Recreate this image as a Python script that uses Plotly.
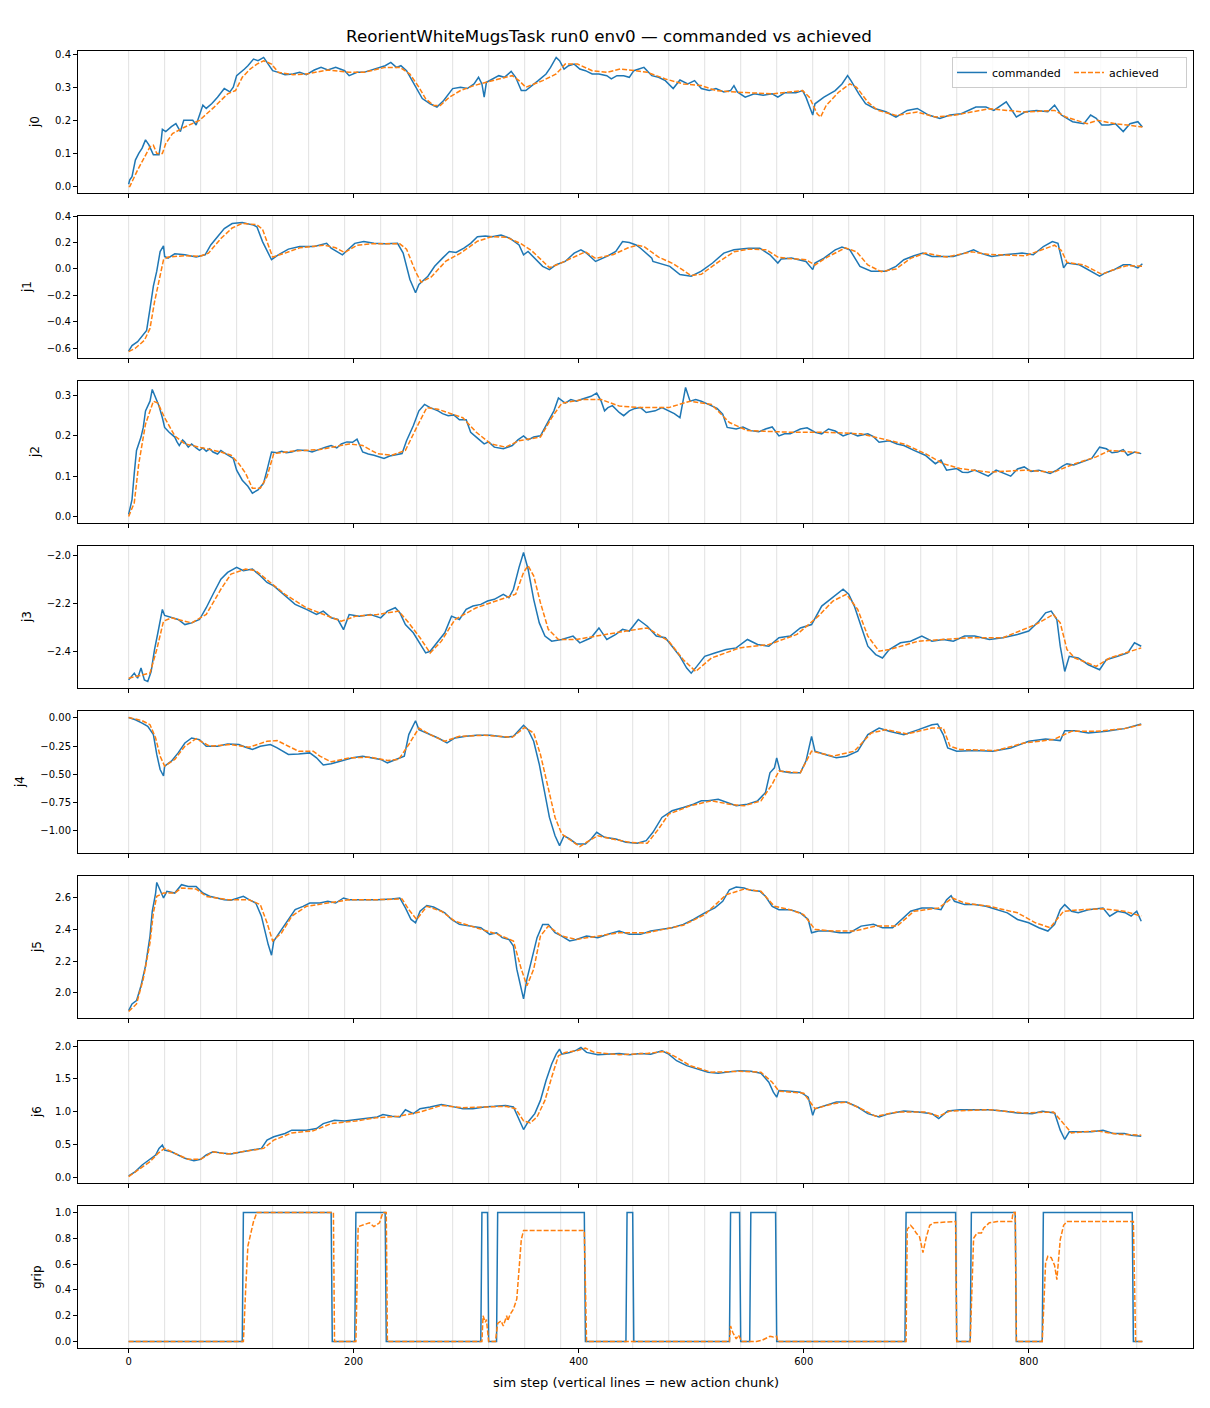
"""
Commanded vs achieved joint trajectories for one rollout (8 stacked panels).

Writes out.html with one panel per joint (j0..j6) plus the gripper,
light vertical lines marking the start of every new action chunk.
"""

import plotly.graph_objects as go
from plotly.subplots import make_subplots


# =============================================================================
# Data
# =============================================================================
TITLE = "ReorientWhiteMugsTask run0 env0 \u2014 commanded vs achieved"
X_LABEL = "sim step (vertical lines = new action chunk)"
JOINT_NAMES = ["j0", "j1", "j2", "j3", "j4", "j5", "j6", "grip"]

chunk_starts = [0, 32, 64, 96, 128, 160, 192, 224, 256, 288, 320, 352, 384, 416, 448,
                480, 512, 544, 576, 608, 640, 672, 704, 736, 768, 800, 832, 864, 896]
x_tick_vals = [0, 200, 400, 600, 800]

# --- j0 -----------------------------------------------------------------------
j0_cmd_x = [0, 1, 3, 6, 9, 12, 15, 18, 22, 27, 29, 30, 33, 38, 42, 46, 49, 57, 60, 63,
            66, 69, 74, 79, 85, 90, 93, 96, 100, 103, 106, 111, 115, 120, 123, 128, 133,
            139, 146, 152, 158, 165, 171, 177, 184, 192, 196, 203, 209, 215, 222, 228,
            233, 238, 242, 247, 252, 257, 261, 268, 274, 280, 288, 295, 301, 307, 311,
            314, 316, 318, 323, 329, 334, 340, 344, 349, 353, 358, 364, 371, 375, 380,
            383, 387, 391, 396, 401, 406, 412, 418, 425, 429, 434, 440, 445, 449, 458,
            465, 471, 477, 484, 490, 497, 503, 509, 516, 522, 529, 535, 538, 541, 548,
            556, 564, 572, 577, 583, 593, 599, 602, 605, 608, 610, 618, 628, 634, 639,
            642, 649, 655, 663, 673, 682, 692, 701, 711, 721, 730, 740, 753, 762, 769,
            780, 785, 789, 797, 807, 817, 823, 829, 839, 849, 855, 860, 865, 871, 877,
            884, 890, 897, 901]
j0_cmd_y = [0.007, 0.02, 0.03, 0.08, 0.10, 0.116, 0.141, 0.126, 0.096, 0.096, 0.141, 0.173,
            0.166, 0.181, 0.19, 0.166, 0.2, 0.2, 0.186, 0.216, 0.246, 0.236, 0.251, 0.27,
            0.296, 0.286, 0.30, 0.335, 0.345, 0.355, 0.365, 0.385, 0.38, 0.39, 0.375, 0.35,
            0.345, 0.338, 0.34, 0.345, 0.338, 0.352, 0.36, 0.352, 0.36, 0.35, 0.335, 0.345,
            0.345, 0.352, 0.358, 0.365, 0.375, 0.36, 0.365, 0.35, 0.32, 0.29, 0.266, 0.25,
            0.24, 0.26, 0.296, 0.30, 0.296, 0.31, 0.33, 0.31, 0.27, 0.315, 0.325, 0.335,
            0.33, 0.348, 0.33, 0.29, 0.29, 0.305, 0.32, 0.34, 0.36, 0.39, 0.38, 0.355,
            0.365, 0.37, 0.355, 0.35, 0.34, 0.34, 0.335, 0.325, 0.335, 0.335, 0.33, 0.35,
            0.36, 0.335, 0.33, 0.32, 0.296, 0.322, 0.31, 0.32, 0.296, 0.29, 0.296, 0.286,
            0.29, 0.305, 0.286, 0.27, 0.28, 0.276, 0.28, 0.27, 0.283, 0.283, 0.29, 0.27,
            0.24, 0.216, 0.25, 0.27, 0.29, 0.31, 0.335, 0.32, 0.28, 0.25, 0.236, 0.226,
            0.21, 0.23, 0.236, 0.216, 0.206, 0.216, 0.22, 0.24, 0.24, 0.23, 0.256, 0.23,
            0.21, 0.226, 0.23, 0.226, 0.246, 0.216, 0.196, 0.19, 0.216, 0.206, 0.186, 0.186,
            0.19, 0.166, 0.19, 0.196, 0.18]
j0_ach_x = [0, 1, 8, 14, 19, 22, 25, 30, 33, 39, 50, 63, 76, 88, 95, 101, 108, 114, 120,
            127, 133, 146, 158, 177, 196, 209, 228, 241, 250, 258, 264, 271, 277, 285, 295,
            307, 317, 329, 341, 347, 353, 368, 380, 388, 399, 412, 425, 437, 450, 461, 477,
            493, 509, 522, 541, 573, 599, 605, 612, 615, 620, 631, 641, 647, 657, 666, 682,
            701, 717, 733, 749, 765, 797, 823, 833, 852, 861, 877, 901]
j0_ach_y = [0.0, 0.0, 0.05, 0.09, 0.12, 0.125, 0.1, 0.1, 0.13, 0.16, 0.18, 0.2, 0.24, 0.28,
            0.29, 0.33, 0.355, 0.37, 0.38, 0.37, 0.345, 0.338, 0.34, 0.352, 0.345, 0.345,
            0.36, 0.36, 0.34, 0.3, 0.265, 0.245, 0.245, 0.27, 0.29, 0.305, 0.315, 0.325,
            0.335, 0.32, 0.3, 0.32, 0.34, 0.37, 0.37, 0.35, 0.345, 0.355, 0.35, 0.345,
            0.325, 0.31, 0.305, 0.29, 0.285, 0.28, 0.29, 0.27, 0.22, 0.21, 0.245, 0.285,
            0.31, 0.3, 0.255, 0.23, 0.215, 0.225, 0.21, 0.215, 0.225, 0.235, 0.225, 0.23,
            0.21, 0.19, 0.2, 0.19, 0.18]

# --- j1 -----------------------------------------------------------------------
j1_cmd_x = [0, 3, 8, 11, 16, 19, 22, 25, 28, 31, 32, 35, 41, 50, 60, 68, 73, 79, 85, 92,
            101, 111, 114, 119, 127, 133, 142, 152, 165, 176, 180, 190, 201, 209, 218, 228,
            239, 244, 250, 255, 258, 266, 272, 279, 285, 291, 298, 304, 310, 317, 323, 331,
            339, 347, 351, 355, 361, 368, 374, 380, 388, 396, 402, 407, 415, 425, 433, 439,
            445, 451, 455, 465, 466, 471, 481, 490, 500, 509, 519, 529, 538, 551, 561, 570,
            577, 580, 589, 602, 608, 610, 618, 628, 634, 641, 650, 660, 673, 682, 689, 698,
            706, 714, 724, 733, 743, 751, 757, 767, 778, 794, 804, 813, 821, 826, 831, 834,
            845, 855, 863, 868, 876, 884, 890, 897, 901]
j1_cmd_y = [-0.622, -0.58, -0.55, -0.515, -0.465, -0.30, -0.13, -0.017, 0.132, 0.175, 0.095,
            0.082, 0.115, 0.107, 0.09, 0.107, 0.182, 0.244, 0.306, 0.344, 0.352, 0.332,
            0.319, 0.207, 0.07, 0.107, 0.15, 0.17, 0.17, 0.194, 0.157, 0.107, 0.194, 0.207,
            0.194, 0.19, 0.194, 0.12, -0.08, -0.18, -0.117, -0.055, 0.02, 0.082, 0.132,
            0.125, 0.157, 0.194, 0.244, 0.25, 0.244, 0.256, 0.232, 0.182, 0.107, 0.132,
            0.082, 0.02, -0.005, 0.032, 0.057, 0.12, 0.145, 0.12, 0.057, 0.095, 0.132, 0.207,
            0.2, 0.182, 0.157, 0.082, 0.057, 0.045, 0.02, -0.042, -0.055, -0.017, 0.045,
            0.12, 0.145, 0.157, 0.157, 0.107, 0.045, 0.075, 0.082, 0.057, -0.005, 0.045,
            0.082, 0.145, 0.165, 0.145, 0.02, -0.017, -0.017, 0.02, 0.07, 0.1, 0.12, 0.095,
            0.095, 0.095, 0.12, 0.145, 0.12, 0.095, 0.107, 0.12, 0.107, 0.17, 0.207, 0.194,
            0.008, 0.045, 0.032, -0.017, -0.055, -0.03, -0.005, 0.032, 0.032, 0.008, 0.04]
j1_ach_x = [0, 6, 14, 19, 23, 28, 31, 35, 50, 63, 71, 82, 92, 101, 114, 119, 123, 128, 139,
            152, 174, 184, 192, 203, 215, 241, 247, 255, 260, 269, 282, 295, 310, 323, 336,
            349, 358, 368, 374, 383, 399, 406, 415, 431, 444, 452, 458, 471, 484, 500, 509,
            522, 538, 551, 567, 577, 586, 602, 610, 621, 637, 647, 657, 669, 682, 695, 708,
            727, 749, 765, 797, 823, 829, 834, 849, 865, 874, 887, 901]
j1_ach_y = [-0.625, -0.6, -0.54, -0.45, -0.25, -0.05, 0.07, 0.09, 0.1, 0.095, 0.12, 0.23,
            0.31, 0.345, 0.335, 0.3, 0.2, 0.09, 0.12, 0.16, 0.18, 0.16, 0.125, 0.18, 0.19,
            0.19, 0.15, -0.02, -0.1, -0.06, 0.06, 0.12, 0.21, 0.245, 0.24, 0.19, 0.14, 0.06,
            0.01, 0.04, 0.1, 0.13, 0.08, 0.11, 0.16, 0.18, 0.17, 0.09, 0.04, -0.05, -0.04,
            0.04, 0.13, 0.15, 0.145, 0.09, 0.08, 0.07, 0.03, 0.09, 0.16, 0.13, 0.03, -0.02,
            0.0, 0.08, 0.12, 0.09, 0.13, 0.11, 0.1, 0.18, 0.14, 0.05, 0.03, -0.04, -0.01,
            0.025, 0.02]

# --- j2 -----------------------------------------------------------------------
j2_cmd_x = [0, 3, 5, 7, 11, 13, 15, 19, 21, 24, 27, 30, 32, 36, 41, 43, 45, 48, 50, 53,
            56, 60, 63, 66, 69, 72, 75, 79, 82, 85, 88, 93, 96, 101, 106, 110, 115, 120,
            123, 127, 132, 136, 140, 145, 150, 158, 163, 170, 175, 180, 185, 189, 194, 199,
            203, 208, 213, 218, 222, 227, 232, 237, 243, 247, 253, 258, 263, 268, 275, 279,
            284, 289, 294, 300, 304, 309, 316, 320, 325, 333, 341, 346, 351, 355, 360, 366,
            373, 378, 382, 388, 393, 398, 402, 407, 411, 416, 420, 423, 426, 430, 436, 440,
            445, 450, 455, 460, 468, 474, 480, 485, 490, 495, 499, 504, 509, 514, 518, 523,
            528, 532, 540, 546, 553, 560, 566, 572, 578, 583, 588, 592, 597, 603, 610, 616,
            622, 628, 635, 642, 648, 657, 662, 667, 676, 683, 689, 698, 703, 708, 717, 722,
            727, 736, 741, 746, 752, 758, 764, 771, 778, 784, 790, 796, 802, 809, 819, 825,
            830, 834, 840, 847, 856, 863, 869, 874, 879, 884, 888, 894, 900]
j2_cmd_y = [0.005, 0.042, 0.107, 0.164, 0.197, 0.221, 0.262, 0.286, 0.315, 0.294, 0.274,
            0.245, 0.221, 0.209, 0.197, 0.185, 0.176, 0.19, 0.184, 0.172, 0.18, 0.17, 0.164,
            0.17, 0.162, 0.168, 0.16, 0.155, 0.164, 0.158, 0.152, 0.144, 0.115, 0.09, 0.075,
            0.058, 0.066, 0.083, 0.115, 0.16, 0.158, 0.162, 0.158, 0.16, 0.165, 0.164, 0.16,
            0.168, 0.172, 0.176, 0.17, 0.18, 0.185, 0.184, 0.192, 0.16, 0.155, 0.152, 0.148,
            0.144, 0.15, 0.152, 0.156, 0.188, 0.225, 0.262, 0.278, 0.27, 0.262, 0.255, 0.25,
            0.252, 0.24, 0.24, 0.209, 0.197, 0.18, 0.185, 0.172, 0.168, 0.176, 0.19, 0.2,
            0.19, 0.197, 0.2, 0.237, 0.262, 0.294, 0.281, 0.29, 0.286, 0.29, 0.294, 0.298,
            0.306, 0.286, 0.262, 0.27, 0.275, 0.258, 0.25, 0.262, 0.268, 0.27, 0.258, 0.262,
            0.27, 0.262, 0.255, 0.245, 0.32, 0.286, 0.29, 0.286, 0.28, 0.274, 0.268, 0.254,
            0.221, 0.217, 0.222, 0.213, 0.21, 0.217, 0.222, 0.2, 0.205, 0.205, 0.21, 0.217,
            0.22, 0.209, 0.205, 0.217, 0.212, 0.2, 0.207, 0.2, 0.205, 0.198, 0.184, 0.188,
            0.18, 0.176, 0.164, 0.158, 0.152, 0.131, 0.14, 0.115, 0.119, 0.11, 0.109, 0.115,
            0.107, 0.1, 0.115, 0.108, 0.1, 0.118, 0.123, 0.112, 0.115, 0.107, 0.115, 0.125,
            0.131, 0.128, 0.135, 0.144, 0.172, 0.168, 0.158, 0.16, 0.166, 0.152, 0.16, 0.156]
j2_ach_x = [0, 5, 9, 15, 22, 26, 32, 41, 50, 69, 82, 91, 98, 104, 110, 117, 123, 129, 145,
            170, 196, 208, 221, 234, 246, 256, 265, 275, 297, 309, 322, 335, 347, 366, 376,
            385, 404, 420, 436, 455, 480, 499, 518, 534, 550, 588, 619, 651, 670, 689, 708,
            724, 739, 765, 796, 822, 841, 860, 872, 891, 900]
j2_ach_y = [0.0, 0.034, 0.131, 0.229, 0.286, 0.281, 0.245, 0.2, 0.18, 0.168, 0.16, 0.152,
            0.131, 0.107, 0.07, 0.07, 0.099, 0.156, 0.162, 0.166, 0.18, 0.176, 0.156, 0.152,
            0.164, 0.221, 0.27, 0.266, 0.245, 0.209, 0.18, 0.172, 0.188, 0.197, 0.245, 0.281,
            0.29, 0.29, 0.274, 0.27, 0.27, 0.286, 0.278, 0.233, 0.213, 0.209, 0.209, 0.205,
            0.192, 0.18, 0.156, 0.131, 0.119, 0.11, 0.115, 0.11, 0.131, 0.148, 0.164, 0.16,
            0.158]

# --- j3 -----------------------------------------------------------------------
j3_cmd_x = [0, 5, 8, 11, 14, 17, 20, 23, 26, 30, 32, 38, 44, 50, 56, 63, 69, 75, 82, 88, 96,
            102, 110, 117, 123, 129, 139, 148, 158, 167, 173, 180, 186, 191, 196, 205, 215,
            224, 230, 237, 241, 246, 253, 259, 264, 268, 275, 281, 287, 294, 300, 306, 313,
            319, 325, 333, 338, 342, 347, 351, 355, 360, 365, 370, 376, 385, 395, 401, 411,
            418, 425, 433, 439, 445, 453, 461, 469, 477, 483, 490, 496, 500, 505, 512, 521,
            531, 540, 550, 559, 569, 578, 588, 597, 607, 616, 622, 629, 635, 640, 645, 651,
            657, 664, 670, 676, 686, 695, 705, 714, 724, 733, 743, 752, 765, 777, 790, 800,
            809, 815, 820, 825, 828, 832, 836, 844, 853, 863, 869, 879, 888, 894, 900]
j3_cmd_y = [-2.519, -2.491, -2.512, -2.47, -2.519, -2.526, -2.484, -2.393, -2.323, -2.226,
            -2.251, -2.261, -2.268, -2.289, -2.282, -2.268, -2.219, -2.163, -2.1, -2.072,
            -2.051, -2.065, -2.058, -2.086, -2.114, -2.128, -2.17, -2.205, -2.226, -2.247,
            -2.233, -2.261, -2.268, -2.31, -2.247, -2.254, -2.247, -2.261, -2.233, -2.219,
            -2.24, -2.289, -2.323, -2.372, -2.407, -2.4, -2.358, -2.323, -2.254, -2.268,
            -2.226, -2.212, -2.205, -2.191, -2.184, -2.163, -2.177, -2.142, -2.051, -1.989,
            -2.058, -2.184, -2.282, -2.337, -2.358, -2.351, -2.337, -2.365, -2.344, -2.303,
            -2.351, -2.33, -2.309, -2.316, -2.268, -2.296, -2.337, -2.344, -2.379, -2.421,
            -2.47, -2.491, -2.463, -2.421, -2.407, -2.393, -2.386, -2.351, -2.372, -2.379,
            -2.344, -2.337, -2.303, -2.289, -2.212, -2.191, -2.163, -2.142, -2.163, -2.212,
            -2.296, -2.379, -2.414, -2.428, -2.393, -2.365, -2.358, -2.337, -2.358, -2.351,
            -2.358, -2.337, -2.337, -2.351, -2.344, -2.33, -2.316, -2.275, -2.24, -2.233,
            -2.268, -2.379, -2.484, -2.421, -2.428, -2.456, -2.477, -2.435, -2.421, -2.407,
            -2.365, -2.379]
j3_ach_x = [0, 12, 19, 25, 31, 38, 56, 69, 82, 91, 104, 113, 126, 139, 158, 177, 189, 202,
            221, 240, 249, 259, 268, 278, 290, 309, 335, 344, 351, 355, 360, 366, 373, 382,
            398, 423, 442, 461, 480, 493, 504, 518, 543, 569, 594, 613, 626, 638, 648, 657,
            667, 676, 702, 746, 777, 806, 822, 828, 834, 841, 860, 872, 885, 900]
j3_ach_y = [-2.512, -2.498, -2.491, -2.393, -2.275, -2.261, -2.282, -2.247, -2.142, -2.079,
            -2.058, -2.065, -2.114, -2.163, -2.219, -2.254, -2.275, -2.254, -2.247, -2.233,
            -2.282, -2.344, -2.407, -2.358, -2.268, -2.219, -2.177, -2.163, -2.072, -2.044,
            -2.086, -2.198, -2.309, -2.351, -2.351, -2.33, -2.316, -2.303, -2.358, -2.435,
            -2.484, -2.428, -2.386, -2.372, -2.33, -2.254, -2.191, -2.163, -2.226, -2.337,
            -2.4, -2.393, -2.358, -2.344, -2.344, -2.289, -2.247, -2.282, -2.393, -2.428,
            -2.463, -2.428, -2.407, -2.386]

# --- j4 -----------------------------------------------------------------------
j4_cmd_x = [0, 6, 12, 17, 22, 25, 28, 31, 32, 38, 44, 50, 56, 63, 69, 79, 88, 98, 104, 110,
            117, 126, 132, 142, 151, 161, 167, 173, 180, 189, 199, 208, 218, 224, 230, 237,
            245, 249, 253, 255, 258, 265, 275, 283, 290, 300, 309, 322, 335, 342, 347, 351,
            355, 360, 365, 370, 374, 379, 383, 387, 392, 398, 406, 411, 416, 423, 433, 442,
            452, 460, 466, 474, 483, 493, 502, 509, 515, 524, 532, 540, 550, 559, 566, 570,
            574, 576, 579, 588, 597, 602, 607, 610, 619, 629, 638, 648, 657, 667, 676, 689,
            702, 714, 719, 724, 728, 736, 752, 768, 784, 800, 815, 828, 832, 841, 853, 869,
            885, 900]
j4_cmd_y = [0.003, -0.017, -0.047, -0.076, -0.149, -0.325, -0.458, -0.516, -0.428, -0.384,
            -0.311, -0.223, -0.179, -0.193, -0.252, -0.252, -0.232, -0.237, -0.261, -0.281,
            -0.252, -0.237, -0.267, -0.325, -0.32, -0.311, -0.355, -0.419, -0.408, -0.384,
            -0.355, -0.34, -0.355, -0.369, -0.399, -0.369, -0.34, -0.149, -0.076, -0.026,
            -0.105, -0.135, -0.179, -0.223, -0.179, -0.164, -0.155, -0.155, -0.173, -0.164,
            -0.105, -0.067, -0.105, -0.208, -0.413, -0.678, -0.883, -1.045, -1.133, -1.045,
            -1.074, -1.118, -1.118, -1.074, -1.015, -1.059, -1.074, -1.103, -1.112, -1.089,
            -1.015, -0.883, -0.824, -0.795, -0.766, -0.736, -0.736, -0.722, -0.751, -0.78,
            -0.766, -0.736, -0.663, -0.487, -0.443, -0.355, -0.472, -0.487, -0.487, -0.384,
            -0.164, -0.296, -0.325, -0.355, -0.34, -0.296, -0.149, -0.091, -0.12, -0.149,
            -0.105, -0.061, -0.055, -0.149, -0.267, -0.296, -0.29, -0.296, -0.267, -0.208,
            -0.187, -0.202, -0.114, -0.114, -0.135, -0.12, -0.096, -0.055]
j4_ach_x = [0, 12, 19, 24, 28, 32, 41, 50, 60, 72, 91, 107, 123, 132, 142, 151, 164, 170,
            180, 196, 215, 230, 240, 249, 258, 268, 281, 294, 316, 341, 352, 360, 366, 373,
            379, 385, 395, 401, 407, 417, 430, 445, 461, 471, 480, 499, 518, 534, 547, 562,
            572, 578, 597, 607, 626, 645, 660, 673, 692, 714, 724, 730, 739, 771, 796, 822,
            838, 860, 885, 900]
j4_ach_y = [0.003, -0.026, -0.061, -0.179, -0.34, -0.428, -0.369, -0.252, -0.185, -0.252,
            -0.237, -0.261, -0.208, -0.202, -0.252, -0.296, -0.296, -0.34, -0.39, -0.355,
            -0.349, -0.378, -0.369, -0.237, -0.091, -0.149, -0.208, -0.164, -0.155, -0.173,
            -0.085, -0.135, -0.325, -0.619, -0.883, -1.03, -1.103, -1.141, -1.103, -1.045,
            -1.074, -1.103, -1.112, -0.986, -0.854, -0.78, -0.736, -0.766, -0.78, -0.736,
            -0.589, -0.472, -0.487, -0.296, -0.34, -0.296, -0.135, -0.105, -0.143, -0.091,
            -0.091, -0.252, -0.281, -0.29, -0.223, -0.193, -0.12, -0.12, -0.096, -0.061]

# --- j5 -----------------------------------------------------------------------
j5_cmd_x = [0, 3, 7, 11, 15, 19, 21, 24, 25, 28, 31, 34, 41, 47, 53, 60, 66, 72, 79, 85, 91,
            98, 102, 107, 113, 118, 121, 124, 127, 129, 136, 142, 148, 155, 161, 170, 177,
            184, 191, 196, 208, 221, 234, 241, 246, 251, 255, 259, 265, 271, 281, 287, 294,
            303, 313, 321, 327, 332, 338, 342, 345, 349, 351, 354, 358, 363, 368, 373, 379,
            385, 392, 398, 407, 417, 426, 436, 445, 455, 464, 474, 483, 493, 502, 512, 521,
            528, 534, 540, 547, 553, 561, 566, 572, 578, 588, 597, 604, 607, 613, 622, 632,
            641, 651, 662, 670, 679, 689, 695, 705, 714, 722, 727, 731, 734, 743, 752, 762,
            771, 781, 790, 800, 809, 817, 823, 828, 832, 838, 844, 853, 866, 872, 879, 886,
            891, 896, 900]
j5_cmd_y = [1.887, 1.929, 1.95, 2.044, 2.17, 2.358, 2.515, 2.63, 2.697, 2.651, 2.599, 2.641,
            2.63, 2.683, 2.672, 2.672, 2.63, 2.61, 2.599, 2.588, 2.584, 2.599, 2.609, 2.588,
            2.567, 2.484, 2.39, 2.306, 2.237, 2.327, 2.4, 2.463, 2.525, 2.546, 2.567, 2.567,
            2.578, 2.567, 2.599, 2.588, 2.588, 2.588, 2.593, 2.599, 2.536, 2.463, 2.442,
            2.515, 2.551, 2.542, 2.505, 2.463, 2.432, 2.421, 2.411, 2.369, 2.379, 2.348,
            2.337, 2.295, 2.149, 2.023, 1.961, 2.086, 2.212, 2.348, 2.432, 2.432, 2.379,
            2.358, 2.327, 2.337, 2.358, 2.348, 2.369, 2.39, 2.369, 2.369, 2.39, 2.4, 2.411,
            2.432, 2.463, 2.505, 2.536, 2.578, 2.651, 2.668, 2.662, 2.647, 2.641, 2.61, 2.546,
            2.525, 2.525, 2.505, 2.463, 2.379, 2.39, 2.39, 2.379, 2.379, 2.421, 2.432, 2.411,
            2.411, 2.473, 2.515, 2.536, 2.536, 2.525, 2.588, 2.613, 2.578, 2.557, 2.557,
            2.546, 2.525, 2.505, 2.463, 2.442, 2.411, 2.39, 2.432, 2.525, 2.557, 2.515, 2.505,
            2.525, 2.536, 2.484, 2.515, 2.505, 2.484, 2.515, 2.452]
j5_ach_x = [0, 7, 13, 19, 22, 25, 31, 41, 47, 60, 69, 88, 107, 117, 123, 128, 136, 145, 158,
            177, 196, 221, 243, 249, 256, 265, 278, 290, 309, 328, 342, 349, 354, 360, 366,
            373, 385, 398, 436, 461, 493, 512, 531, 547, 562, 574, 588, 600, 610, 626, 645,
            664, 683, 698, 720, 732, 743, 765, 790, 806, 819, 831, 847, 866, 885, 900]
j5_ach_y = [1.881, 1.929, 2.086, 2.316, 2.505, 2.609, 2.63, 2.63, 2.662, 2.655, 2.609, 2.588,
            2.588, 2.557, 2.442, 2.327, 2.379, 2.484, 2.546, 2.567, 2.588, 2.588, 2.593,
            2.525, 2.463, 2.546, 2.515, 2.452, 2.411, 2.369, 2.327, 2.149, 2.044, 2.149,
            2.358, 2.421, 2.358, 2.337, 2.379, 2.379, 2.427, 2.494, 2.619, 2.655, 2.641,
            2.546, 2.525, 2.494, 2.4, 2.39, 2.39, 2.421, 2.421, 2.515, 2.536, 2.599, 2.567,
            2.546, 2.505, 2.442, 2.411, 2.515, 2.525, 2.53, 2.515, 2.484]

# --- j6 -----------------------------------------------------------------------
j6_cmd_x = [0, 6, 12, 19, 24, 27, 30, 32, 38, 44, 50, 58, 64, 69, 75, 85, 91, 101, 110, 118,
            123, 129, 139, 145, 158, 167, 173, 183, 192, 202, 211, 221, 226, 234, 241, 246,
            253, 259, 268, 278, 287, 297, 306, 316, 325, 335, 342, 347, 351, 355, 361, 366,
            371, 376, 380, 383, 385, 392, 398, 402, 407, 417, 426, 436, 445, 455, 464, 474,
            480, 487, 496, 505, 515, 524, 534, 543, 553, 562, 569, 573, 576, 578, 588, 597,
            604, 608, 610, 619, 629, 638, 648, 657, 667, 676, 689, 702, 714, 720, 728, 739,
            752, 765, 777, 790, 803, 812, 823, 828, 832, 836, 847, 856, 866, 875, 885, 891,
            900]
j6_cmd_y = [0.019, 0.085, 0.186, 0.272, 0.338, 0.439, 0.49, 0.414, 0.388, 0.338, 0.287,
            0.252, 0.272, 0.338, 0.388, 0.363, 0.353, 0.388, 0.414, 0.439, 0.565, 0.616,
            0.666, 0.717, 0.717, 0.742, 0.818, 0.869, 0.858, 0.879, 0.894, 0.919, 0.955,
            0.929, 0.919, 1.03, 0.97, 1.045, 1.071, 1.111, 1.081, 1.045, 1.045, 1.071, 1.081,
            1.096, 1.071, 0.894, 0.727, 0.843, 0.97, 1.172, 1.475, 1.728, 1.879, 1.955,
            1.879, 1.905, 1.94, 1.981, 1.905, 1.87, 1.879, 1.89, 1.87, 1.89, 1.879, 1.93,
            1.879, 1.778, 1.703, 1.652, 1.602, 1.587, 1.602, 1.627, 1.617, 1.587, 1.45,
            1.298, 1.222, 1.323, 1.313, 1.298, 1.222, 0.944, 1.045, 1.096, 1.147, 1.147,
            1.071, 0.97, 0.919, 0.97, 1.01, 0.995, 0.97, 0.894, 1.01, 1.03, 1.03, 1.03, 1.01,
            0.98, 0.97, 1.005, 0.98, 0.717, 0.575, 0.692, 0.692, 0.692, 0.717, 0.666, 0.666,
            0.641, 0.626]
j6_ach_x = [0, 9, 19, 26, 32, 41, 53, 64, 75, 88, 107, 120, 129, 145, 164, 180, 202, 221,
            240, 259, 278, 297, 335, 344, 351, 357, 363, 370, 376, 382, 388, 398, 406, 414,
            436, 461, 477, 487, 499, 518, 543, 562, 572, 578, 600, 610, 626, 638, 651, 664,
            683, 708, 720, 730, 765, 796, 822, 831, 838, 860, 879, 900]
j6_ach_y = [0.009, 0.11, 0.236, 0.363, 0.439, 0.363, 0.272, 0.272, 0.388, 0.353, 0.403,
            0.439, 0.565, 0.676, 0.707, 0.818, 0.858, 0.909, 0.929, 0.995, 1.096, 1.061,
            1.081, 1.045, 0.858, 0.828, 0.919, 1.172, 1.526, 1.854, 1.905, 1.93, 1.97, 1.905,
            1.87, 1.89, 1.92, 1.829, 1.703, 1.602, 1.617, 1.602, 1.45, 1.313, 1.283, 1.045,
            1.121, 1.147, 1.045, 0.929, 0.995, 0.995, 0.929, 1.01, 1.03, 0.98, 0.995, 0.818,
            0.676, 0.707, 0.656, 0.641]

# --- grip ---------------------------------------------------------------------
grip_cmd_x = [0, 101, 102, 180, 181, 201, 202, 228, 229, 313, 314, 319, 320, 327, 328, 405,
              406, 442, 443, 448, 449, 534, 535, 543, 544, 552, 553, 575, 576, 690, 691, 735,
              736, 748, 749, 788, 789, 812, 813, 892, 893, 901]
grip_cmd_y = [0, 0, 1, 1, 0, 0, 1, 1, 0, 0, 1, 1, 0, 0, 1, 1, 0, 0, 1, 1, 0, 0, 1, 1, 0, 0,
              1, 1, 0, 0, 1, 1, 0, 0, 1, 1, 0, 0, 1, 1, 0, 0]
grip_ach_x = [0, 102, 104, 106, 111, 114, 182, 183, 202, 204, 209, 214, 218, 223, 226, 229,
              230, 314, 315, 317, 318, 320, 326, 328, 331, 333, 336, 337, 339, 342, 345, 347,
              349, 351, 405, 407, 534, 535, 537, 540, 542, 545, 558, 563, 567, 570, 573, 576,
              577, 691, 692, 695, 698, 700, 703, 706, 709, 712, 716, 733, 735, 736, 748, 751,
              754, 758, 760, 765, 772, 785, 786, 788, 789, 812, 815, 817, 820, 823, 825, 828,
              831, 834, 893, 895, 901]
grip_ach_y = [0, 0, 0.4, 0.74, 0.93, 1.0, 1.0, 0, 0, 0.89, 0.905, 0.92, 0.89, 0.92, 1.0, 1.0,
              0, 0, 0.2, 0.15, 0.17, 0, 0, 0.14, 0.16, 0.12, 0.2, 0.16, 0.21, 0.25, 0.33, 0.58,
              0.79, 0.86, 0.86, 0, 0, 0.12, 0.07, 0.02, 0.05, 0, 0, 0.01, 0.03, 0.04, 0.035,
              0.04, 0, 0, 0.87, 0.9, 0.87, 0.84, 0.81, 0.69, 0.81, 0.9, 0.92, 0.93, 0.93, 0,
              0, 0.8, 0.84, 0.84, 0.88, 0.92, 0.93, 0.93, 1.0, 1.0, 0, 0, 0.61, 0.66, 0.65,
              0.59, 0.48, 0.79, 0.9, 0.93, 0.93, 0, 0]

# y-axis ticks per panel
y_tick_vals = [
    [0.0, 0.1, 0.2, 0.3, 0.4],
    [-0.6, -0.4, -0.2, 0.0, 0.2, 0.4],
    [0.0, 0.1, 0.2, 0.3],
    [-2.4, -2.2, -2.0],
    [-1.0, -0.75, -0.5, -0.25, 0.0],
    [2.0, 2.2, 2.4, 2.6],
    [0.0, 0.5, 1.0, 1.5, 2.0],
    [0.0, 0.2, 0.4, 0.6, 0.8, 1.0],
]
y_tick_formats = [".1f", ".1f", ".1f", ".1f", ".2f", ".1f", ".1f", ".1f"]


# =============================================================================
# Figure
# =============================================================================
def main():
    series = [
        (j0_cmd_x, j0_cmd_y, j0_ach_x, j0_ach_y),
        (j1_cmd_x, j1_cmd_y, j1_ach_x, j1_ach_y),
        (j2_cmd_x, j2_cmd_y, j2_ach_x, j2_ach_y),
        (j3_cmd_x, j3_cmd_y, j3_ach_x, j3_ach_y),
        (j4_cmd_x, j4_cmd_y, j4_ach_x, j4_ach_y),
        (j5_cmd_x, j5_cmd_y, j5_ach_x, j5_ach_y),
        (j6_cmd_x, j6_cmd_y, j6_ach_x, j6_ach_y),
        (grip_cmd_x, grip_cmd_y, grip_ach_x, grip_ach_y),
    ]
    for cx, cy, ax, ay in series:
        assert len(cx) == len(cy) and len(ax) == len(ay)

    # the page body adds an 8px margin, so the figure is 8px smaller
    W, H = 1202, 1400
    off = 8
    m_l, m_r, m_t, m_b = 78 - off, 17, 51 - off, 60
    plot_w = W - m_l - m_r
    plot_h = H - m_t - m_b
    n = len(JOINT_NAMES)

    fig = make_subplots(rows=n, cols=1, shared_xaxes=True,
                        vertical_spacing=23 / plot_h)

    for i, (cx, cy, ax, ay) in enumerate(series):
        row = i + 1
        fig.add_trace(go.Scatter(
            x=cx, y=cy, mode="lines", name="commanded",
            line=dict(color="#1f77b4", width=1.5),
            showlegend=(i == 0), legendgroup="cmd",
        ), row=row, col=1)
        fig.add_trace(go.Scatter(
            x=ax, y=ay, mode="lines", name="achieved",
            line=dict(color="#ff7f0e", width=1.5, dash="5px,2px"),
            showlegend=(i == 0), legendgroup="ach",
        ), row=row, col=1)

        # matplotlib-style 5% margins around the data
        lo = min(min(cy), min(ay))
        hi = max(max(cy), max(ay))
        pad = (hi - lo) * 0.05
        fig.update_yaxes(range=[lo - pad, hi + pad], tickvals=y_tick_vals[i],
                         tickformat=y_tick_formats[i], row=row, col=1)

        # rotated y label, placed left of the tick labels
        dom = fig.layout[f"yaxis{'' if row == 1 else row}"].domain
        label_px = [35, 27, 35, 27, 20, 37, 37, 37][i] - off
        fig.add_annotation(
            text=JOINT_NAMES[i], textangle=-90, showarrow=False,
            xref="paper", yref="paper",
            x=(label_px - m_l) / plot_w, y=(dom[0] + dom[1]) / 2,
            xanchor="center", yanchor="middle",
            font=dict(size=12, color="black"),
        )

    # action chunk boundaries (drawn below the data, after traces exist)
    for xc in chunk_starts:
        fig.add_vline(x=xc, row="all", col=1, layer="below",
                      line=dict(color="rgba(128,128,128,0.3)", width=0.8))

    fig.update_xaxes(range=[-45, 946], tickvals=x_tick_vals,
                     ticks="outside", ticklen=4, tickcolor="black",
                     showline=True, linecolor="black", linewidth=1, mirror=True,
                     showgrid=False, zeroline=False,
                     tickfont=dict(size=10, color="black"))
    fig.update_yaxes(ticks="outside", ticklen=4, tickcolor="black",
                     showline=True, linecolor="black", linewidth=1, mirror=True,
                     showgrid=False, zeroline=False,
                     tickfont=dict(size=10, color="black"))

    fig.add_annotation(
        text=X_LABEL, showarrow=False, xref="paper", yref="paper",
        x=0.5, y=(H - m_b - (1382 - off)) / plot_h, xanchor="center", yanchor="middle",
        font=dict(size=13, color="black"),
    )

    fig.update_layout(
        title=dict(text=TITLE, x=0.5, xanchor="center", xref="container",
                   y=1 - (36 - off) / H, yanchor="middle", yref="container",
                   font=dict(size=16.7, color="black")),
        width=W, height=H,
        margin=dict(l=m_l, r=m_r, t=m_t, b=m_b),
        paper_bgcolor="white", plot_bgcolor="white",
        font=dict(family="DejaVu Sans", color="black"),
        legend=dict(orientation="h", x=0.9946, y=0.9954,
                    xanchor="right", yanchor="top",
                    bgcolor="rgba(255,255,255,0.8)", bordercolor="#cccccc",
                    borderwidth=1, font=dict(size=11), itemwidth=30,
                    entrywidth=72),
    )

    fig.write_html("out.html")


if __name__ == "__main__":
    main()
